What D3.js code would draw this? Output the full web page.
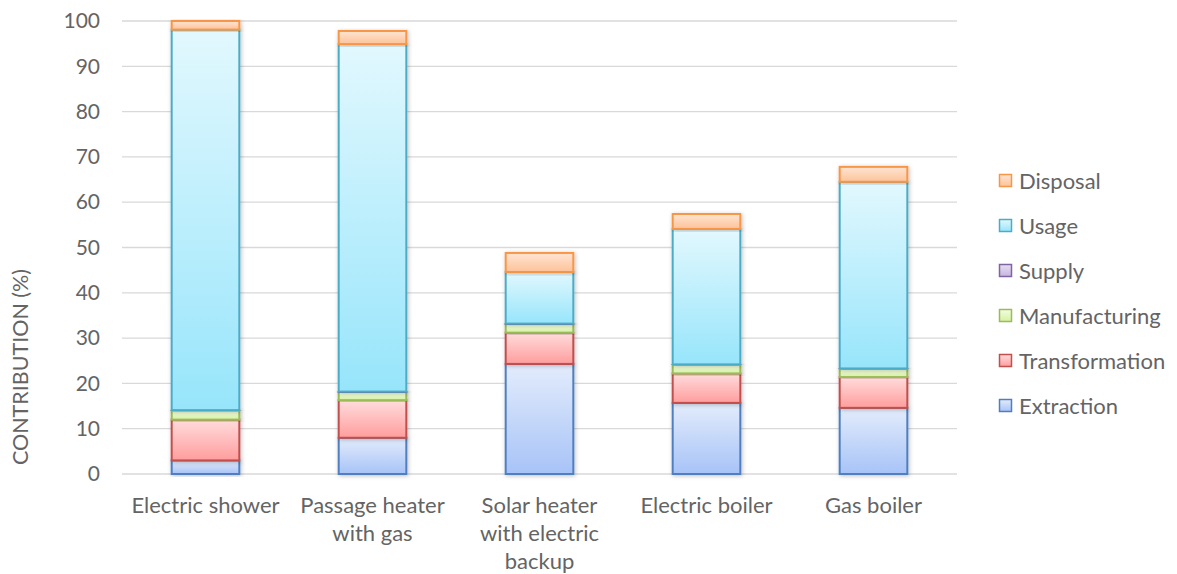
<!DOCTYPE html>
<html>
<head>
<meta charset="utf-8">
<script src="https://cdnjs.cloudflare.com/ajax/libs/d3/7.8.5/d3.min.js"></script>
<style>
  body { margin: 0; background: #fff; }
  text { font-family: Lato, "Open Sans", sans-serif; fill: #646464; }
</style>
</head>
<body>
<div id="chart"></div>
<script>
// categories (x axis), one label line per entry
var categories = ["Electric shower", "Passage heater with gas", "Solar heater with electric backup", "Electric boiler", "Gas boiler"];
var categoryLines = [["Electric shower"], ["Passage heater", "with gas"], ["Solar heater", "with electric", "backup"], ["Electric boiler"], ["Gas boiler"]];

// series, bottom to top of the stack
var stages = ["Extraction", "Transformation", "Manufacturing", "Supply", "Usage", "Disposal"];
var extraction     = [3.0, 8.0, 24.3, 15.7, 14.6];
var transformation = [9.0, 8.3, 6.9, 6.5, 6.8];
var manufacturing  = [2.0, 1.8, 1.9, 1.9, 1.8];
var supply         = [0.1, 0.1, 0.1, 0.1, 0.1];
var usage          = [84.0, 76.7, 11.4, 29.9, 41.2];
var disposal       = [1.9, 2.9, 4.2, 3.3, 3.3];

var yTicks = [0, 10, 20, 30, 40, 50, 60, 70, 80, 90, 100];

var series = [extraction, transformation, manufacturing, supply, usage, disposal];

// colours per stage: gradient top, gradient bottom, outline
var styles = {
    Extraction:     {top: "#e3ecfc", bottom: "#a7c3f7", stroke: "#4f7fc0"},
    Transformation: {top: "#ffdcdc", bottom: "#ff9d9d", stroke: "#c0504d"},
    Manufacturing:  {top: "#f4fde2", bottom: "#d5f1a2", stroke: "#9bbb59"},
    Supply:         {top: "#e6def1", bottom: "#c6b5df", stroke: "#8064a2"},
    Usage:          {top: "#e2f8fe", bottom: "#97e5fb", stroke: "#4bacc6"},
    Disposal:       {top: "#ffe4d2", bottom: "#fcc39a", stroke: "#f79646"}
};

var margin = {top: 21, left: 122};
var width = 835, height = 453;

var table = categories.map(function(c, i) {
    var row = {category: c};
    stages.forEach(function(s, j) { row[s] = series[j][i]; });
    return row;
});
var stacked = d3.stack().keys(stages)(table);

var svg = d3.select("#chart")
    .append("svg")
    .attr("width", 1177)
    .attr("height", 574);

var defs = svg.append("defs");
stages.forEach(function(s) {
    var g = defs.append("linearGradient")
        .attr("id", "grad_" + s)
        .attr("x1", 0).attr("y1", 0).attr("x2", 0).attr("y2", 1);
    g.append("stop").attr("offset", "0%").attr("stop-color", styles[s].top);
    g.append("stop").attr("offset", "100%").attr("stop-color", styles[s].bottom);
});
var shadow = defs.append("filter").attr("id", "shadow")
    .attr("x", "-20%").attr("y", "-20%").attr("width", "140%").attr("height", "140%");
shadow.append("feDropShadow")
    .attr("dx", 1).attr("dy", 1).attr("stdDeviation", 2)
    .attr("flood-color", "#000").attr("flood-opacity", 0.25);

var chart = svg.append("g")
    .attr("transform", "translate(" + margin.left + "," + margin.top + ")");

// scales
var x = d3.scaleBand()
    .domain(categories)
    .range([0, width])
    .paddingInner(0.595)
    .paddingOuter(0.2975);

var y = d3.scaleLinear()
    .domain([0, 100])
    .range([height, 0]);

// gridlines
chart.append("g").selectAll("line")
    .data(yTicks)
    .enter()
    .append("line")
    .attr("x1", 0)
    .attr("x2", width)
    .attr("y1", function(d) { return y(d); })
    .attr("y2", function(d) { return y(d); })
    .attr("stroke", "#d9d9d9")
    .attr("stroke-width", 1.3);

// y axis
var yAxis = chart.append("g")
    .call(d3.axisLeft(y).tickValues(yTicks).tickSize(0).tickPadding(22));
yAxis.select(".domain").remove();
yAxis.selectAll("text")
    .attr("font-size", 21)
    .attr("font-family", "Lato, sans-serif")
    .attr("fill", "#646464");

// y axis label
svg.append("text")
    .attr("text-anchor", "middle")
    .attr("transform", "translate(28,367) rotate(-90)")
    .attr("font-size", 21.5)
    .text("CONTRIBUTION (%)");

// bars
var layers = chart.append("g").selectAll("g")
    .data(stacked)
    .enter()
    .append("g")
    .attr("fill", function(d) { return "url(#grad_" + d.key + ")"; })
    .attr("stroke", function(d) { return styles[d.key].stroke; });

layers.selectAll("rect")
    .data(function(d) { return d; })
    .enter()
    .append("rect")
    .attr("x", function(d) { return x(d.data.category); })
    .attr("width", x.bandwidth())
    .attr("y", function(d) { return y(d[1]); })
    .attr("height", function(d) { return y(d[0]) - y(d[1]); })
    .attr("stroke-width", 2)
    .attr("filter", "url(#shadow)");

// x axis labels
var xLabels = chart.append("g").selectAll("text")
    .data(categories)
    .enter()
    .append("text")
    .attr("text-anchor", "middle")
    .attr("font-size", 22)
    .attr("x", function(d) { return x(d) + x.bandwidth() / 2; })
    .attr("y", height + 39);

xLabels.selectAll("tspan")
    .data(function(d, i) { return categoryLines[i]; })
    .enter()
    .append("tspan")
    .attr("x", function() { var p = d3.select(this.parentNode).datum(); return x(p) + x.bandwidth() / 2; })
    .attr("dy", function(d, i) { return i === 0 ? 0 : 28; })
    .text(function(d) { return d; });

// legend, top entry is the last stage
var legendItems = stages.slice().reverse();
var legend = svg.append("g")
    .attr("transform", "translate(999,181)");

var item = legend.selectAll("g")
    .data(legendItems)
    .enter()
    .append("g")
    .attr("transform", function(d, i) { return "translate(0," + (i * 45) + ")"; });

item.append("rect")
    .attr("x", 0.5)
    .attr("y", -6.5)
    .attr("width", 12)
    .attr("height", 12)
    .attr("fill", function(d) { return "url(#grad_" + d + ")"; })
    .attr("stroke", function(d) { return styles[d].stroke; })
    .attr("stroke-width", 1.5);

item.append("text")
    .attr("x", 20)
    .attr("y", 0)
    .attr("dy", "0.35em")
    .attr("font-size", 22)
    .text(function(d) { return d; });
</script>
</body>
</html>
